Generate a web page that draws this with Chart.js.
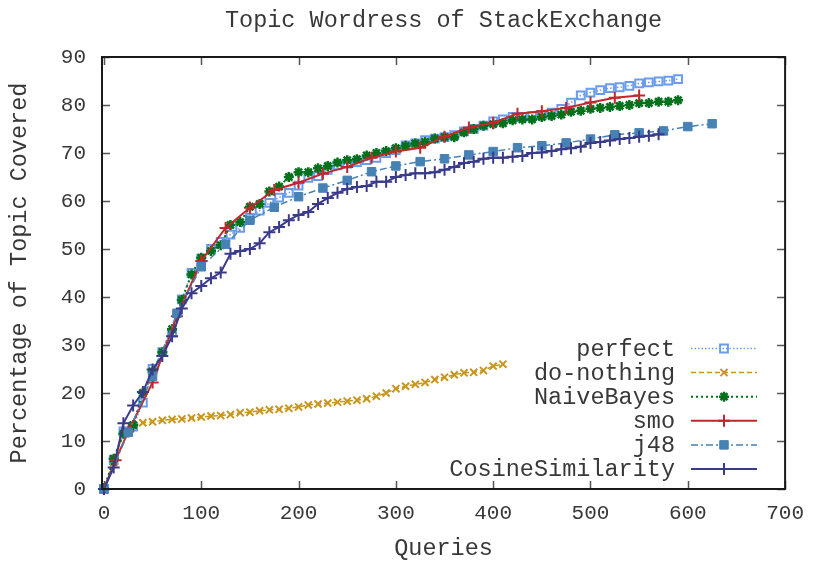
<!DOCTYPE html>
<html><head><meta charset="utf-8">
<script src="https://cdn.jsdelivr.net/npm/chart.js@4/dist/chart.umd.min.js"></script>
<style>html,body{margin:0;padding:0;background:#fff}#wrap{width:816px;height:566px;position:relative}canvas{display:block}</style>
</head><body><div id="wrap"><canvas id="c" width="816" height="566" style="width:816px;height:566px"></canvas></div>
<script>
const chartTitle = 'Topic Wordress of StackExchange';
const xTitle = 'Queries';
const yTitle = 'Percentage of Topic Covered';
const xTicks = [0,100,200,300,400,500,600,700];
const yTicks = [0,10,20,30,40,50,60,70,80,90];
const seriesNames = ['perfect','do-nothing','NaiveBayes','smo','j48','CosineSimilarity'];

const perfectX = [0,10,20,30,40,50,60,70,80,90,100,110,120,130,140,150,160,170,180,190,200,210,220,230,240,250,260,270,280,290,300,310,320,330,340,350,360,370,380,390,400,410,420,430,440,450,460,470,480,490,500,510,520,530,540,550,560,570,580,590];
const perfectY = [0,6,12,13,18,25,28.5,32.6,39.5,45,48,50,51.5,53,54.4,56.5,58,59.6,60.7,61.7,63.2,64.8,65.2,66.5,67.4,67.8,68.1,68.5,69,70,70.6,71.6,72,72.7,73,73.3,73.7,74.5,75,75.7,76.6,77,77.5,77.5,77.7,77.9,78.4,79.2,80.5,82,82.6,83.1,83.5,83.7,84,84.5,84.7,84.9,85.1,85.4];

const doNothingX = [0,10,20,30,40,50,60,70,80,90,100,110,120,130,140,150,160,170,180,190,200,210,220,230,240,250,260,270,280,290,300,310,320,330,340,350,360,370,380,390,400,410];
const doNothingY = [0,5.5,11.5,13.3,13.8,14,14.3,14.5,14.6,14.8,15,15.2,15.3,15.5,15.9,16,16.3,16.5,16.6,16.8,17.1,17.5,17.7,17.9,18.1,18.3,18.5,18.8,19.3,20,20.9,21.4,21.8,22.2,22.8,23.3,23.8,24.2,24.3,24.7,25.6,26];

const naiveBayesX = [0,10,20,30,40,50,60,70,80,90,100,110,120,130,140,150,160,170,180,190,200,210,220,230,240,250,260,270,280,290,300,310,320,330,340,350,360,370,380,390,400,410,420,430,440,450,460,470,480,490,500,510,520,530,540,550,560,570,580,590];
const naiveBayesY = [0,6.3,11.5,13.3,20,24.5,28.5,33.3,39.4,44.7,48.2,49.6,50.8,55,55.6,58.8,59.4,62,63,65,66,66,66.8,67.3,68,68.5,68.7,69.5,70,70.4,71,71.5,72,72.3,73,73.3,73.3,74.3,75,75.7,76,76.2,76.8,77,77,77.5,77.7,78,78.6,78.8,79.2,79.4,79.6,79.8,80,80.4,80.4,80.7,80.7,81];

const smoX = [0,12,25,50,75,100,125,150,175,200,225,250,275,300,325,350,375,400,425,450,475,500,525,550];
const smoY = [0,6,12,22.2,36,47.5,54.4,58.6,62.3,63.8,65.7,67.1,69,70.3,71.1,73.4,75.3,76.3,78.2,78.7,79.4,80.5,81.5,82];

const j48X = [0,25,50,75,100,125,150,175,200,225,250,275,300,325,350,375,400,425,450,475,500,525,550,575,600,625];
const j48Y = [0,11.8,23.5,36.6,46.3,51,56,58.7,60.9,62.7,64.3,66.1,67.3,68.2,68.8,69.6,70.3,71.1,71.5,72.1,72.9,73.8,74.2,74.6,75.5,76.1];

const cosineX = [0,10,20,30,40,50,60,70,80,90,100,110,120,130,140,150,160,170,180,190,200,210,220,230,240,250,260,270,280,290,300,310,320,330,340,350,360,370,380,390,400,410,420,430,440,450,460,470,480,490,500,510,520,530,540,550,560,570];
const cosineY = [0,4.5,13.7,17.4,20.2,24.9,27.7,31.8,37.6,40.8,42.3,43.9,45.1,49,49.6,50,51.2,53.5,54.6,56,57.1,57.7,59.4,60.6,61.7,62.5,62.9,63.1,64,64,65,65.4,65.8,65.8,66,66.5,67.1,67.9,68.2,68.8,69,69,69.2,69.4,70,70.1,70.4,70.8,71,71.3,72.1,72.3,72.6,72.9,73.1,73.4,73.6,73.9];

const FONT = '"Liberation Mono", "Courier New", monospace';
const TEXT = '#383838';

function pts(xs, ys) { return xs.map((x, i) => ({x: x, y: ys[i]})); }

const styles = [
  {color:'#6a9cee', dash:[1.5,2], width:1.5, point:'rect', radius:5.5, fill:'rgba(255,255,255,0)', pbw:2},
  {color:'#c8961c', dash:[5,3], width:1.5, point:'crossRot', radius:5, fill:'#c8961c', pbw:2},
  {color:'#00701a', dash:[2,3], width:2, point:'star', radius:5, fill:'#00701a', pbw:2.5},
  {color:'#c0282d', dash:[], width:2, point:'cross', radius:6, fill:'#c0282d', pbw:2},
  {color:'#4682b4', dash:[7,3,2,3], width:1.5, point:'rect', radius:6, fill:'#4682b4', pbw:1},
  {color:'#3a3a8a', dash:[], width:2, point:'cross', radius:6, fill:'#3a3a8a', pbw:2}
];
const seriesData = [pts(perfectX, perfectY), pts(doNothingX, doNothingY), pts(naiveBayesX, naiveBayesY), pts(smoX, smoY), pts(j48X, j48Y), pts(cosineX, cosineY)];

const datasets = seriesNames.map((name, i) => ({
  label: name,
  data: seriesData[i],
  borderColor: styles[i].color,
  backgroundColor: styles[i].fill,
  borderWidth: styles[i].width,
  borderDash: styles[i].dash,
  pointStyle: styles[i].point,
  pointRadius: styles[i].radius,
  pointBorderWidth: styles[i].pbw,
  pointBorderColor: styles[i].color,
  pointBackgroundColor: styles[i].fill,
  pointHoverRadius: styles[i].radius,
  showLine: true,
  fill: false,
  tension: 0,
  clip: false,
  order: seriesNames.length - i
}));

const framePlugin = {
  id: 'frame',
  afterDraw(chart) {
    const {ctx, chartArea: a, scales} = chart;
    ctx.save();
    ctx.font = '23.5px ' + FONT;
    ctx.fillStyle = TEXT;
    ctx.textAlign = 'center';
    ctx.textBaseline = 'middle';
    ctx.fillText(chartTitle, (a.left + a.right) / 2, 21);
    ctx.strokeStyle = '#555';
    ctx.lineWidth = 1.5;
    ctx.beginPath();
    xTicks.forEach(v => {
      const x = Math.round(scales.x.getPixelForValue(v)) + 0.5;
      ctx.moveTo(x, a.bottom); ctx.lineTo(x, a.bottom - 8);
      ctx.moveTo(x, a.top); ctx.lineTo(x, a.top + 8);
    });
    yTicks.forEach(v => {
      const y = Math.round(scales.y.getPixelForValue(v)) + 0.5;
      ctx.moveTo(a.left, y); ctx.lineTo(a.left + 8, y);
      ctx.moveTo(a.right, y); ctx.lineTo(a.right - 8, y);
    });
    ctx.stroke();
    ctx.strokeStyle = '#1a1a1a';
    ctx.lineWidth = 2;
    ctx.strokeRect(a.left, a.top, a.right - a.left, a.bottom - a.top);
    chart.data.datasets.forEach((ds, i) => {
      const y = 348.5 + i * 24.1;
      ctx.font = '23.5px ' + FONT;
      ctx.fillStyle = TEXT;
      ctx.textAlign = 'right';
      ctx.textBaseline = 'middle';
      ctx.fillText(ds.label, 675, y + 1);
      ctx.strokeStyle = ds.borderColor;
      ctx.lineWidth = ds.borderWidth;
      ctx.setLineDash(ds.borderDash);
      ctx.beginPath(); ctx.moveTo(691, y); ctx.lineTo(757, y); ctx.stroke();
      ctx.setLineDash([]);
      ctx.fillStyle = ds.pointBackgroundColor;
      ctx.strokeStyle = ds.pointBorderColor;
      ctx.lineWidth = ds.pointBorderWidth;
      Chart.helpers.drawPoint(ctx, {pointStyle: ds.pointStyle, radius: ds.pointRadius, borderWidth: ds.pointBorderWidth, rotation: 0}, 724, y);
    });
    ctx.restore();
  }
};

new Chart(document.getElementById('c'), {
  type: 'line',
  data: {datasets},
  options: {
    responsive: false,
    animation: false,
    devicePixelRatio: 1,
    layout: {padding: {top: 57, right: 29, left: 0, bottom: 0}},
    plugins: {legend: {display: false}, title: {display: false}, tooltip: {enabled: false}},
    scales: {
      x: {
        type: 'linear', min: -2, max: 700,
        afterBuildTicks: s => { s.ticks = xTicks.map(v => ({value: v})); },
        afterFit: s => { s.height = 77; },
        grid: {display: false, drawTicks: false},
        border: {display: false},
        ticks: {font: {family: FONT, size: 21}, color: TEXT, padding: 12, maxRotation: 0, autoSkip: false},
        title: {display: true, text: xTitle, font: {family: FONT, size: 23.5}, color: TEXT, padding: {top: 0, bottom: 3}}
      },
      y: {
        type: 'linear', min: 0, max: 90,
        afterBuildTicks: s => { s.ticks = yTicks.map(v => ({value: v})); },
        afterFit: s => { s.width = 102; },
        grid: {display: false, drawTicks: false},
        border: {display: false},
        ticks: {font: {family: FONT, size: 21}, color: TEXT, padding: 16, autoSkip: false},
        title: {display: true, text: yTitle, font: {family: FONT, size: 23.5}, color: TEXT, padding: {top: 6, bottom: 0}}
      }
    }
  },
  plugins: [framePlugin]
});
</script></body></html>
